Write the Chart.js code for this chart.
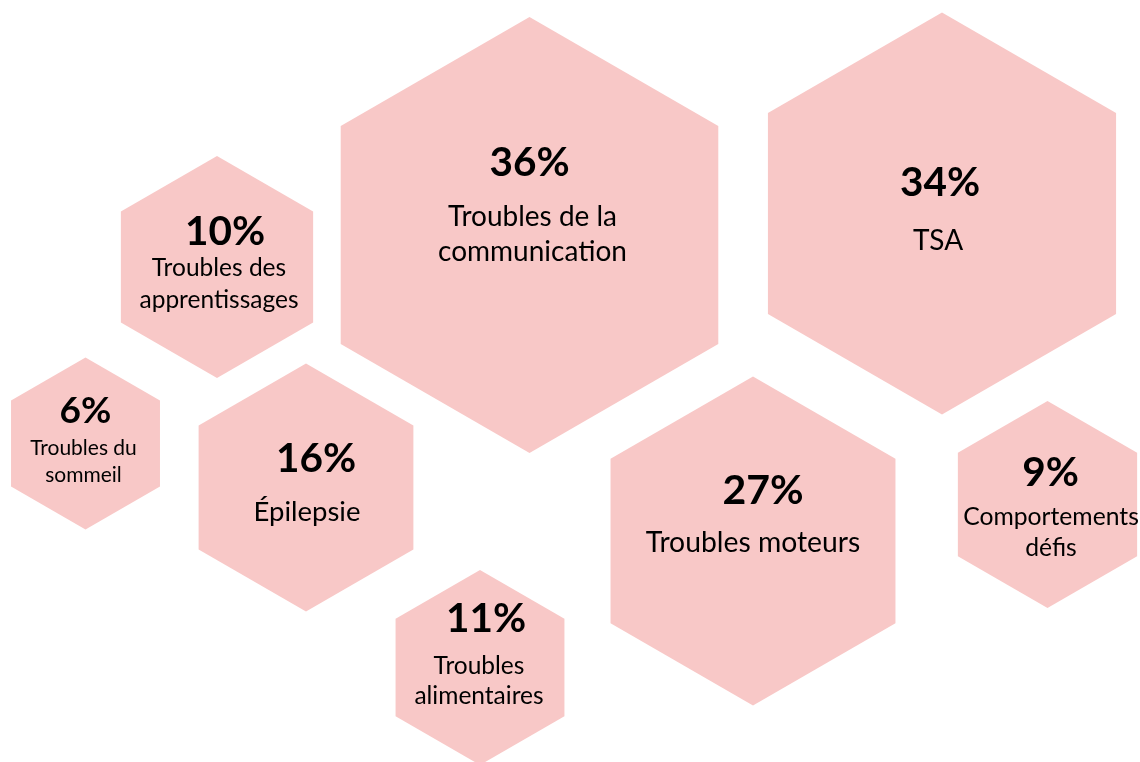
<!DOCTYPE html>
<html>
<head>
<meta charset="utf-8">
<script src="https://cdn.jsdelivr.net/npm/chart.js@4.4.0/dist/chart.umd.min.js"></script>
<style>
  html, body { margin: 0; padding: 0; background: #fff; }
  #wrap { width: 1140px; height: 762px; position: relative; }
</style>
</head>
<body>
<div id="wrap"><canvas id="hexChart"></canvas></div>
<script>
// values
const percentages = [36, 34, 10, 6, 16, 27, 9, 11];
const categories = [
  ["Troubles de la", "communication"],
  ["TSA"],
  ["Troubles des", "apprentissages"],
  ["Troubles du", "sommeil"],
  ["Épilepsie"],
  ["Troubles moteurs"],
  ["Comportements", "défis"],
  ["Troubles", "alimentaires"]
];
const bubbleX = [529.5, 942, 217, 85.5, 306, 753, 1047.5, 480];
const bubbleY = [235, 213.5, 267, 443.5, 487.5, 541, 504.5, 667.5];
const bubbleR = [218, 201, 111, 86, 124, 164.5, 103.5, 97.5];

// text placement inside each hexagon (offsets from centre, px)
const textLayout = [
  { pctDx: 0, pctDy: -72, lineDx: 3, lineDy: -18, gap: 35, pctSize: 40.5, lineSize: 28 },
  { pctDx: -2, pctDy: -31, lineDx: -4, lineDy: 27, gap: 35, pctSize: 40.5, lineSize: 28 },
  { pctDx: 8, pctDy: -35, lineDx: 2, lineDy: 1, gap: 32, pctSize: 40.5, lineSize: 24.5 },
  { pctDx: 0, pctDy: -32, lineDx: -2, lineDy: 4.5, gap: 27, pctSize: 37, lineSize: 21 },
  { pctDx: 10, pctDy: -29, lineDx: 1, lineDy: 25, gap: 35, pctSize: 40.5, lineSize: 27.5 },
  { pctDx: 10, pctDy: -50, lineDx: 0, lineDy: 2, gap: 35, pctSize: 41, lineSize: 28.3 },
  { pctDx: 3, pctDy: -32, lineDx: 3.5, lineDy: 12.5, gap: 31, pctSize: 40.5, lineSize: 24.7 },
  { pctDx: 6, pctDy: -49, lineDx: -1, lineDy: -1, gap: 30, pctSize: 40.5, lineSize: 24.5 }
];

const hexFill = "#F8C8C7";
const fontFamily = "Lato, 'Open Sans', sans-serif";

const hexagons = {
  id: "hexagons",
  afterDatasetsDraw(chart) {
    const ctx = chart.ctx;
    const meta = chart.getDatasetMeta(0);
    ctx.save();
    // shapes first
    meta.data.forEach((el) => {
      const r = el.options.radius;
      ctx.beginPath();
      for (let k = 0; k < 6; k++) {
        const a = (Math.PI / 180) * (-90 + 60 * k);
        const px = el.x + r * Math.cos(a);
        const py = el.y + r * Math.sin(a);
        if (k === 0) ctx.moveTo(px, py); else ctx.lineTo(px, py);
      }
      ctx.closePath();
      ctx.fillStyle = hexFill;
      ctx.fill();
    });
    // then the labels
    ctx.fillStyle = "#000";
    ctx.textAlign = "center";
    ctx.textBaseline = "middle";
    meta.data.forEach((el, i) => {
      const t = textLayout[i];
      ctx.font = "bold " + t.pctSize + "px " + fontFamily;
      ctx.fillText(percentages[i] + "%", el.x + t.pctDx, el.y + t.pctDy);
      ctx.font = t.lineSize + "px " + fontFamily;
      categories[i].forEach((line, j) => {
        ctx.fillText(line, el.x + t.lineDx, el.y + t.lineDy + j * t.gap);
      });
    });
    ctx.restore();
  }
};

const ctx = document.getElementById("hexChart").getContext("2d");
let myChart = new Chart(ctx, {
  type: "bubble",
  data: {
    datasets: [
      {
        label: "Part",
        data: percentages.map((v, i) => ({ x: bubbleX[i], y: bubbleY[i], r: bubbleR[i] })),
        backgroundColor: "rgba(0,0,0,0)",
        borderWidth: 0,
        hoverRadius: 0
      }
    ]
  },
  options: {
    responsive: true,
    maintainAspectRatio: false,
    animation: false,
    layout: { padding: 0, autoPadding: false },
    clip: false,
    plugins: {
      legend: { display: false },
      tooltip: { enabled: false }
    },
    scales: {
      x: { type: "linear", min: 0, max: 1140, display: false },
      y: { type: "linear", min: 0, max: 762, reverse: true, display: false }
    }
  },
  plugins: [hexagons]
});
</script>
</body>
</html>
